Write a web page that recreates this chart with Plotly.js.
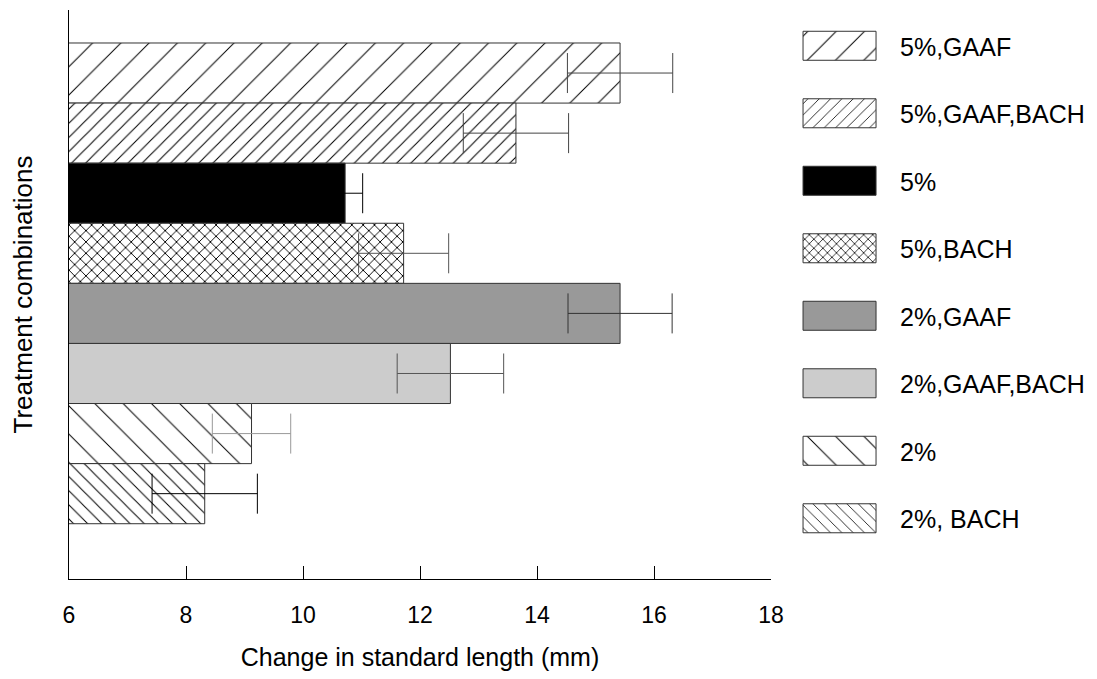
<!DOCTYPE html>
<html>
<head>
<meta charset="utf-8">
<script src="https://cdn.plot.ly/plotly-3.0.1.min.js"></script>
<style>
  html, body { margin: 0; padding: 0; background: #fff; }
  #chart { width: 1097px; height: 679px; }
</style>
</head>
<body>
<div id="chart"></div>
<script>
// ---- data ----
var categories = ["5%,GAAF", "5%,GAAF,BACH", "5%", "5%,BACH", "2%,GAAF", "2%,GAAF,BACH", "2%", "2%, BACH"];
var lengthChange = [15.42, 13.64, 10.72, 11.72, 15.42, 12.52, 9.12, 8.32];
var lengthError = [0.9, 0.9, 0.3, 0.77, 0.89, 0.91, 0.67, 0.9];
var xTickValues = [6, 8, 10, 12, 14, 16, 18];

// ---- styles ----
var barStyles = [
  {color: "#ffffff", pattern: {shape: "/", size: 20, solidity: 0.05, fgcolor: "#000", bgcolor: "#fff"}, err: "#444"},
  {color: "#ffffff", pattern: {shape: "/", size: 10, solidity: 0.1, fgcolor: "#000", bgcolor: "#fff"}, err: "#444"},
  {color: "#000000", pattern: null, err: "#000"},
  {color: "#ffffff", pattern: {shape: "x", size: 8, solidity: 0.22, fgcolor: "#000", bgcolor: "#fff"}, err: "#555"},
  {color: "#999999", pattern: null, err: "#333"},
  {color: "#cccccc", pattern: null, err: "#555"},
  {color: "#ffffff", pattern: {shape: "\\", size: 20, solidity: 0.05, fgcolor: "#000", bgcolor: "#fff"}, err: "#999"},
  {color: "#ffffff", pattern: {shape: "\\", size: 10, solidity: 0.1, fgcolor: "#000", bgcolor: "#fff"}, err: "#000"}
];

var FONT = "'Liberation Sans', Arial, Helvetica, sans-serif";

var traces = categories.map(function (cat, i) {
  var st = barStyles[i];
  var marker = {color: st.color, line: {color: "#333", width: 1}};
  if (st.pattern) marker.pattern = st.pattern;
  return {
    type: "bar",
    orientation: "h",
    name: cat,
    legendgroup: "g" + i,
    x: [lengthChange[i]],
    y: [cat],
    marker: marker,
    error_x: {type: "data", array: [lengthError[i]], symmetric: true, color: st.err, thickness: 1, width: 20},
    hoverinfo: "x+y"
  };
});

var layout = {
  width: 1097,
  height: 679,
  margin: {l: 69, r: 326, t: 10, b: 100},
  paper_bgcolor: "#fff",
  plot_bgcolor: "#fff",
  font: {family: FONT, size: 24, color: "#000"},
  barmode: "overlay",
  bargap: 0,
  showlegend: true,
  legend: {
    xref: "container", yref: "container",
    x: 0.7293, y: 0.9661,
    xanchor: "left", yanchor: "top",
    traceorder: "grouped",
    tracegroupgap: 32,
    itemwidth: 90,
    maxheight: 670,
    font: {family: FONT, size: 25, color: "#000"},
    bgcolor: "rgba(0,0,0,0)",
    borderwidth: 0
  },
  xaxis: {
    range: [6, 18],
    tickvals: xTickValues,
    ticktext: xTickValues.map(String),
    ticks: "inside",
    ticklen: 13,
    tickcolor: "#000",
    tickwidth: 1,
    showline: true,
    linecolor: "#000",
    linewidth: 1,
    showgrid: false,
    zeroline: false,
    ticklabelstandoff: 15,
    tickfont: {family: FONT, size: 23, color: "#000"},
    title: {text: "Change in standard length (mm)", font: {family: FONT, size: 25, color: "#000"}, standoff: 21},
    fixedrange: true
  },
  yaxis: {
    type: "category",
    categoryorder: "array",
    categoryarray: categories,
    range: [8.42, -1.049],
    showline: true,
    linecolor: "#000",
    linewidth: 1,
    showticklabels: false,
    ticks: "",
    showgrid: false,
    zeroline: false,
    title: {text: "Treatment combinations", font: {family: FONT, size: 26, color: "#000"}, standoff: 27},
    fixedrange: true
  }
};

Plotly.newPlot("chart", traces, layout, {displayModeBar: false, staticPlot: true}).then(function (gd) {
  var items = gd.querySelectorAll(".legend .traces");
  items.forEach(function (item, idx) {
    var p = item.querySelector(".legendpoints path");
    if (!p) return;
    p.setAttribute("d", "M26,14.5H-47V-14.5H26Z");
    var dat = item.__data__;
    var tr = (dat && dat[0] && dat[0].trace) || traces[idx];
    var pat = tr && tr.marker && tr.marker.pattern;
    if (pat && pat.size > 10) {
      var fill = p.style.fill || p.getAttribute("fill") || "";
      var m = /#([^"')]+)/.exec(fill);
      if (m) {
        var el = document.getElementById(m[1]);
        if (el) el.setAttribute("patternTransform", "scale(" + (pat.size / 10) + ")");
      }
    }
  });
});
</script>
</body>
</html>
